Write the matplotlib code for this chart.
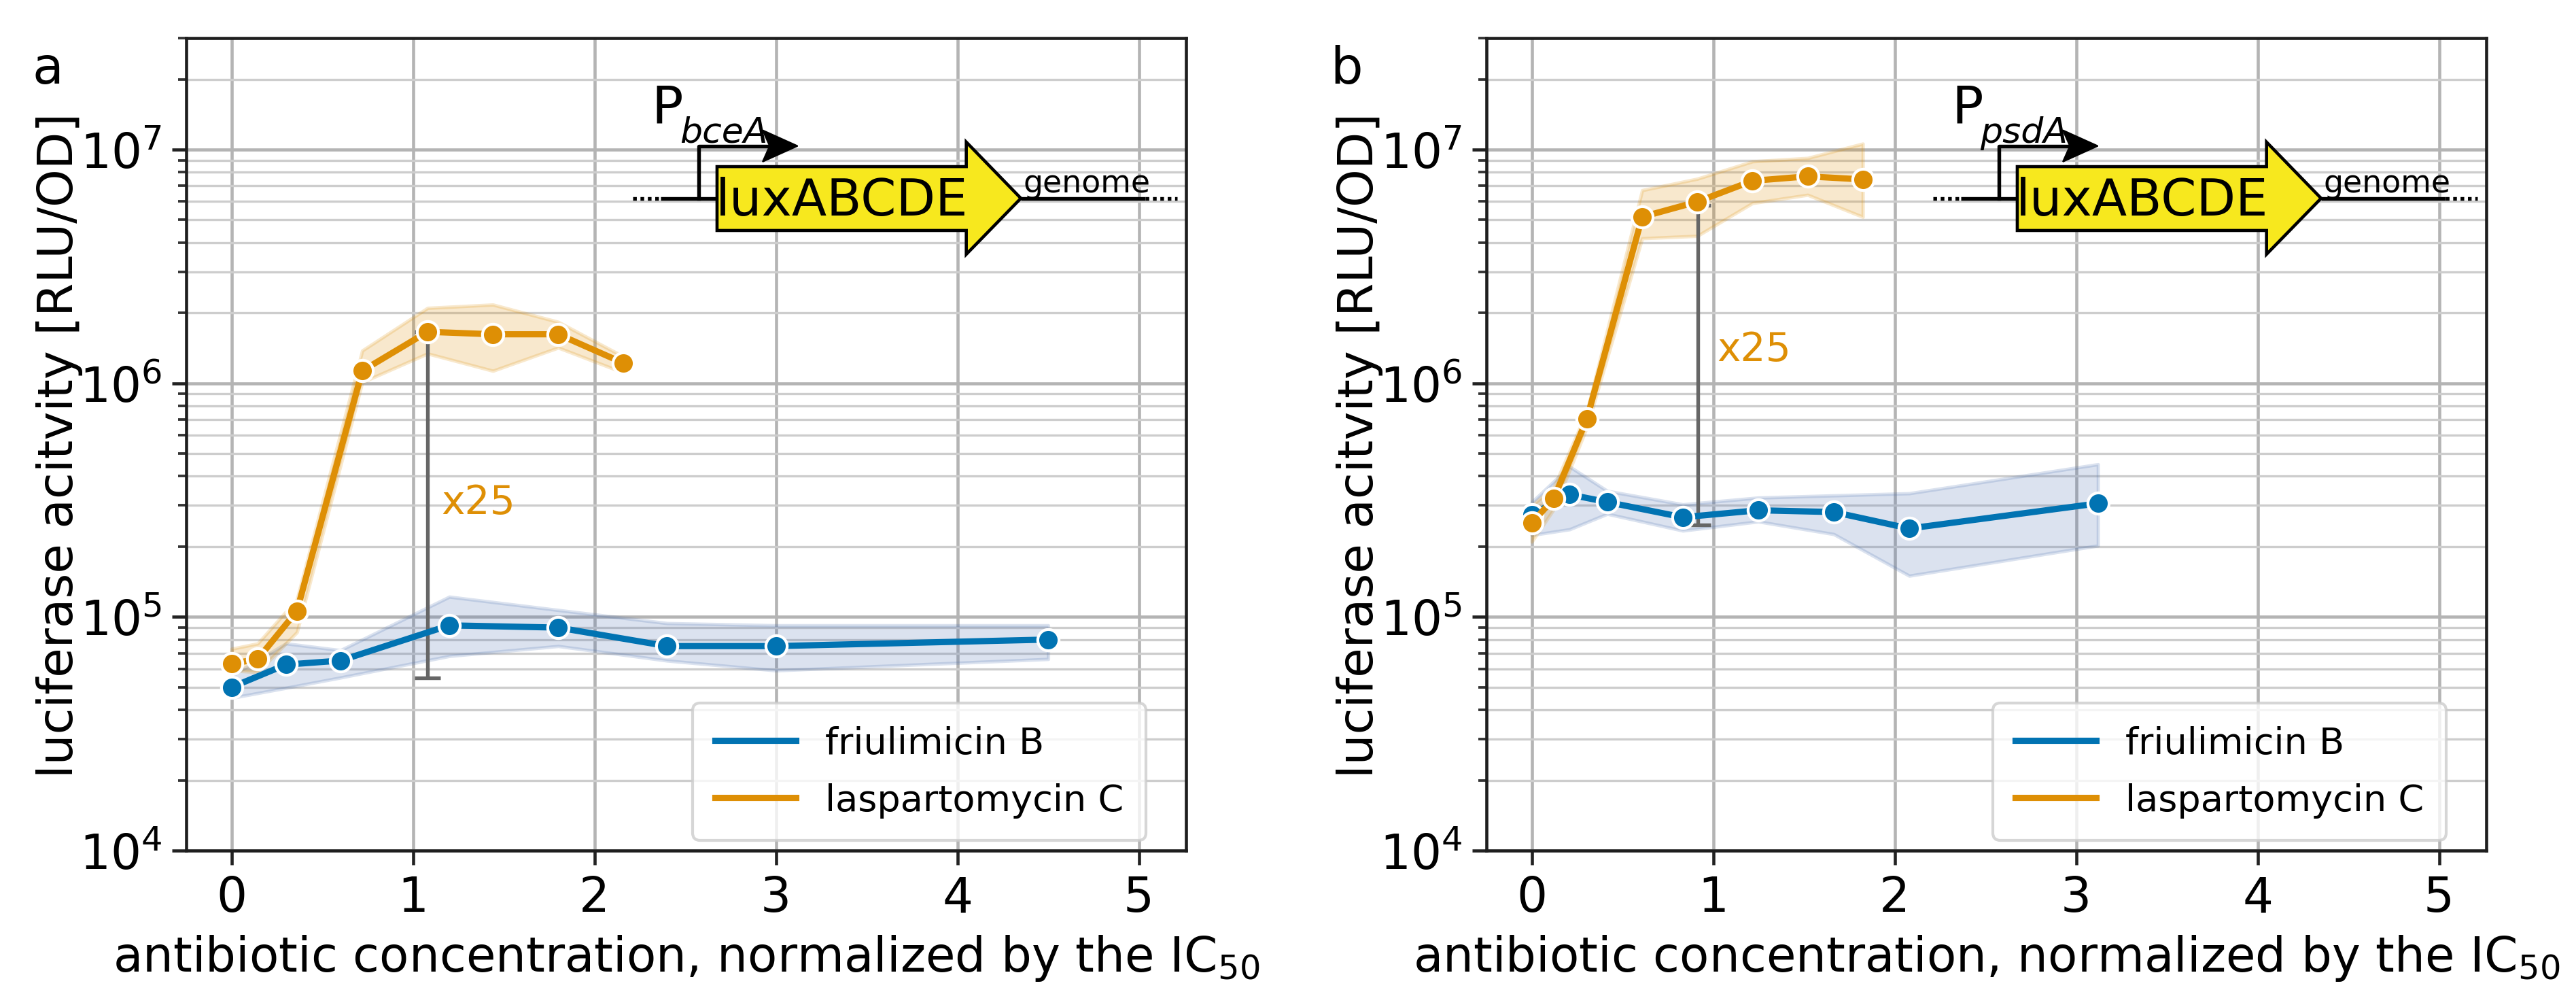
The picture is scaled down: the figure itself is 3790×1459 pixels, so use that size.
import matplotlib
matplotlib.use("Agg")
import matplotlib.pyplot as plt
from matplotlib.lines import Line2D
from matplotlib.patches import Polygon
from matplotlib.ticker import LogLocator, NullFormatter

# ---------- data ----------
# panel a, P_bceA reporter
a_fri_x = [0, 0.3, 0.6, 1.2, 1.8, 2.4, 3.0, 4.5]
a_fri_y = [5.0e4, 6.25e4, 6.5e4, 9.2e4, 9.0e4, 7.5e4, 7.5e4, 8.0e4]
a_fri_lo = [4.5e4, 4.97e4, 5.5e4, 6.8e4, 7.5e4, 6.5e4, 5.9e4, 6.6e4]
a_fri_hi = [5.6e4, 7.7e4, 7.2e4, 1.22e5, 1.07e5, 9.4e4, 9.2e4, 9.2e4]

a_las_x = [0, 0.144, 0.36, 0.72, 1.08, 1.44, 1.8, 2.16]
a_las_y = [6.3e4, 6.6e4, 1.06e5, 1.13e6, 1.66e6, 1.62e6, 1.62e6, 1.22e6]
a_las_lo = [5.9e4, 5.8e4, 8.6e4, 1.01e6, 1.34e6, 1.13e6, 1.42e6, 1.11e6]
a_las_hi = [7.3e4, 7.7e4, 1.19e5, 1.38e6, 2.1e6, 2.17e6, 1.83e6, 1.3e6]

# panel b, P_psdA reporter
b_fri_x = [0, 0.208, 0.416, 0.832, 1.248, 1.664, 2.08, 3.12]
b_fri_y = [2.74e5, 3.34e5, 3.1e5, 2.67e5, 2.86e5, 2.81e5, 2.39e5, 3.06e5]
b_fri_lo = [2.24e5, 2.37e5, 2.76e5, 2.34e5, 2.56e5, 2.26e5, 1.5e5, 2.02e5]
b_fri_hi = [3.1e5, 4.4e5, 3.46e5, 3.03e5, 3.24e5, 3.31e5, 3.38e5, 4.5e5]

b_las_x = [0, 0.122, 0.304, 0.608, 0.912, 1.216, 1.52, 1.824]
b_las_y = [2.52e5, 3.22e5, 7.06e5, 5.15e6, 5.98e6, 7.35e6, 7.68e6, 7.45e6]
b_las_lo = [2.1e5, 2.9e5, 6.5e5, 4.17e6, 4.27e6, 5.9e6, 6.4e6, 5.15e6]
b_las_hi = [3.0e5, 3.6e5, 7.6e5, 6.7e6, 7.5e6, 8.9e6, 9.2e6, 1.06e7]

# fold-change brackets: x, low, high, label x, label y
a_bracket = (1.08, 5.5e4, 1.66e6, 1.155, 3.1e5)
b_bracket = (0.914, 2.48e5, 5.77e6, 1.02, 1.4e6)

panel_letters = ["a", "b"]
promoters = ["bceA", "psdA"]
series_names = ["friulimicin B", "laspartomycin C"]

BLUE = "#0173b2"
BAND_BLUE = "#4c72b0"
ORANGE = "#de8f05"
FS = 17

plt.rcParams["font.family"] = ["DejaVu Sans"]
plt.rcParams["mathtext.fontset"] = "dejavusans"

fig = plt.figure(figsize=(3790 / 300, 1460 / 300), dpi=300)


def draw_construct(ax, promoter):
    # little reporter construct sketch, in axes fraction
    tr = ax.transAxes
    base = 0.8028
    kw = dict(transform=tr, clip_on=False, color="black", lw=1.3)
    ax.plot([0.4463, 0.4745], [base, base], ls=(0, (1, 1)), **kw)
    ax.plot([0.4745, 0.5309], [base, base], solid_capstyle="butt", **kw)
    ax.plot([0.8348, 0.9592], [base, base], solid_capstyle="butt", **kw)
    ax.plot([0.9592, 0.9912], [base, base], ls=(0, (1, 1)), **kw)
    # promoter bent arrow
    ax.plot([0.5123, 0.5123, 0.585], [base, 0.8672, 0.8672], **kw)
    head = Polygon([(0.5765, 0.8866), (0.6115, 0.8672), (0.5765, 0.8478),
                    (0.5835, 0.8672)], closed=True, transform=tr,
                   facecolor="black", edgecolor="black", lw=0.5, clip_on=False)
    ax.add_patch(head)
    gene = Polygon([(0.5309, 0.7632), (0.7802, 0.7632), (0.7802, 0.7339),
                    (0.8348, base), (0.7802, 0.8720), (0.7802, 0.8418),
                    (0.5309, 0.8418)], closed=True, transform=tr,
                   facecolor="#f7e81e", edgecolor="black", lw=1.1,
                   clip_on=False, zorder=4)
    ax.add_patch(gene)
    ax.text(0.6555, 0.7827, "luxABCDE", transform=tr, ha="center",
            va="baseline", fontsize=18, zorder=5)
    ax.text(0.465, 0.8954, "P", transform=tr, ha="left",
            va="baseline", fontsize=18.5, zorder=5)
    ax.text(0.4935, 0.8720, promoter, transform=tr, ha="left",
            va="baseline", fontsize=12.5, style="italic", zorder=5)
    ax.text(0.8369, 0.8109, "genome", transform=tr, ha="left",
            va="baseline", fontsize=11, zorder=5)


def draw_panel(ax, fri, las, bracket, promoter):
    handles = []
    for (x, y, lo, hi), col, band, name in [
            (fri, BLUE, BAND_BLUE, series_names[0]),
            (las, ORANGE, ORANGE, series_names[1])]:
        ax.fill_between(x, lo, hi, facecolor=band, edgecolor=band,
                        alpha=0.2, lw=1.2, zorder=2)
        ax.plot(x, y, color=col, lw=2.2, marker="o", ms=7.5,
                markeredgecolor="white", markeredgewidth=1.0, zorder=3)
        handles.append(Line2D([], [], color=col, lw=2.2, label=name))
    bx, blo, bhi, tx, ty = bracket
    ax.errorbar([bx], [bhi], yerr=[[bhi - blo], [0]], fmt="none",
                ecolor="#666666", elinewidth=1.3, capsize=4.5,
                capthick=1.3, zorder=2.5)
    ax.text(tx, ty, "x25", color=ORANGE, fontsize=14, ha="left",
            va="center")

    ax.set_yscale("log")
    ax.set_xlim(-0.25, 5.26)
    ax.set_ylim(1e4, 3e7)
    ax.set_xticks(range(6))
    ax.yaxis.set_major_locator(LogLocator(base=10, numticks=10))
    ax.yaxis.set_minor_locator(LogLocator(base=10, subs=range(2, 10),
                                          numticks=30))
    ax.yaxis.set_minor_formatter(NullFormatter())
    ax.set_axisbelow(True)
    ax.grid(True, which="major", color="#b4b4b4", lw=1.1)
    ax.grid(True, which="minor", axis="y", color="#cdcdcd", lw=0.8)
    ax.tick_params(axis="both", which="major", labelsize=FS, length=5,
                   width=1.1, color="#222222")
    ax.tick_params(axis="y", which="minor", length=3, width=0.9,
                   color="#333333")
    for sp in ax.spines.values():
        sp.set_color("#1e1e1e")
        sp.set_linewidth(1.1)
    ax.set_xlabel(r"antibiotic concentration, normalized by the IC$_{50}$",
                  fontsize=FS, labelpad=4)
    ax.set_ylabel("luciferase acitvity [RLU/OD]", fontsize=FS)
    ax.yaxis.set_label_coords(-0.103, 0.5)
    ax.legend(handles=handles, loc="lower right",
              bbox_to_anchor=(0.960, 0.0126), borderaxespad=0, fontsize=13,
              handlelength=2.2, labelspacing=0.6, borderpad=0.6,
              fancybox=True)
    draw_construct(ax, promoter)


w, h = 1471 / 3790, 1195 / 1460
bottom = 1 - 1252 / 1460
ax_a = fig.add_axes([274 / 3790, bottom, w, h])
ax_b = fig.add_axes([2187 / 3790, bottom, w, h])

draw_panel(ax_a, (a_fri_x, a_fri_y, a_fri_lo, a_fri_hi),
           (a_las_x, a_las_y, a_las_lo, a_las_hi), a_bracket, promoters[0])
draw_panel(ax_b, (b_fri_x, b_fri_y, b_fri_lo, b_fri_hi),
           (b_las_x, b_las_y, b_las_lo, b_las_hi), b_bracket, promoters[1])

fig.text(48 / 3790, 1 - 123 / 1460, panel_letters[0], fontsize=18,
         va="baseline")
fig.text(1957 / 3790, 1 - 123 / 1460, panel_letters[1], fontsize=18,
         va="baseline")

fig.savefig("out.png", dpi=300)
